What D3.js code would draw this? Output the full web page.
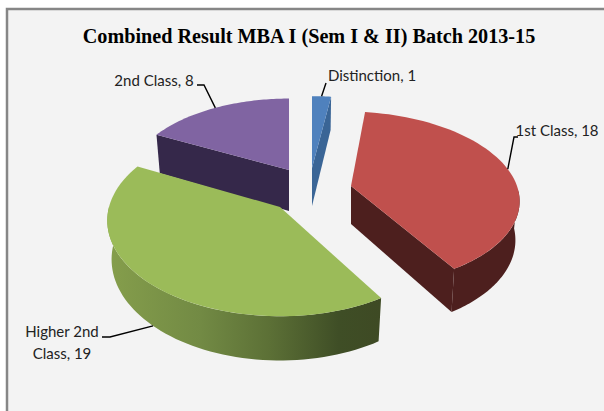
<!DOCTYPE html>
<html><head><meta charset="utf-8">
<script src="https://cdn.jsdelivr.net/npm/d3@7"></script>
<style>html,body{margin:0;padding:0;background:#fff}svg{display:block}</style>
</head><body><svg id="c" width="604" height="411"></svg>
<script>
const categories = ["Distinction", "1st Class", "Higher 2nd Class", "2nd Class"];
const values = [1, 18, 19, 8];
const topColors = ["#4f81bd", "#c0504d", "#9bbb59", "#8064a2"];
const wallColors = ["#3a6596", "#4d1f1e", "url(#gw)", "#35284a"];
const apexX = [312, 351, 280, 289];
const apexY = [168, 186, 207, 170];
const radii = [160, 166, 171, 159];
const shears = [0, 0.035, 0, 0];
const squashes = [0.513, 0.513, 0.548, 0.513];
const wallHeights = [38, 38, 38, 41];
const persp = 0.142, taper = 0.975;
const drawOrder = [0, 3, 1, 2];

const svg = d3.select("#c");
svg.append("rect").attr("x",7).attr("y",9).attr("width",600).attr("height",405)
  .attr("fill","#f3f3f3").attr("stroke","#868686").attr("stroke-width",2.5);
const g = svg.append("defs").append("linearGradient").attr("id","gw")
  .attr("gradientUnits","userSpaceOnUse").attr("x1",104).attr("x2",380).attr("y1",0).attr("y2",0);
[[0,"#869f4c"],[0.35,"#728a44"],[0.6,"#5c7036"],[0.85,"#3f4e26"],[1,"#3e4a24"]]
  .forEach(s=>g.append("stop").attr("offset",s[0]).attr("stop-color",s[1]));

const arcs = d3.pie().value(d=>d).sort(null).startAngle(0).endAngle(2*Math.PI)(values);

function project(i, a, r, lower){
  const u = r*radii[i]*Math.sin(a), v = -r*radii[i]*Math.cos(a);
  const s = 1/(1 - persp*v/radii[i]);
  const t = lower ? taper : 1;
  return [apexX[i] + (u*s + shears[i]*v)*t, apexY[i] + v*squashes[i]*s + (lower ? wallHeights[i]*s : 0)];
}
const line = d3.line();
function arcPts(i,a0,a1,lower){
  return d3.range(0,61).map(k=>project(i,a0+(a1-a0)*k/60,1,lower));
}
drawOrder.forEach(i=>{
  const d = arcs[i], a0=d.startAngle, a1=d.endAngle;
  const apex = project(i,0,0,false), apexB = project(i,0,0,true);
  if(i===0 || i===3){
    const edge = i===0 ? a1 : a0;
    svg.append("path").attr("fill",wallColors[i])
      .attr("d",line([apex,project(i,edge,1,false),project(i,edge,1,true),apexB])+"Z");
  }
  if(i===1){
    svg.append("path").attr("fill",wallColors[i])
      .attr("d",line([apex,project(i,a1,1,false),project(i,a1,1,true),apexB])+"Z");
    const s=Math.PI/2+0.05;
    const top=arcPts(i,s,a1,false), bot=arcPts(i,s,a1,true).reverse();
    svg.append("path").attr("fill",wallColors[i]).attr("d",line(top.concat(bot))+"Z");
  }
  if(i===2){
    const e=Math.PI*1.5;
    const top=arcPts(i,a0,e,false), bot=arcPts(i,a0,e,true).reverse();
    svg.append("path").attr("fill",wallColors[i]).attr("d",line(top.concat(bot))+"Z");
  }
  svg.append("path").attr("fill",topColors[i])
    .attr("d",line([apex].concat(arcPts(i,a0,a1,false)))+"Z");
});

// leaders: anchored at each slice's mid angle
const elbowA = [[326,83],[514,137],[110,337],[204,85]];
const elbowB = [[326,83],[518,137],[102,337],[197,85]];
values.forEach((_,i)=>{
  const d=arcs[i], m=(d.startAngle+d.endAngle)/2;
  const p=project(i,m,1,i===2);
  svg.append("path").attr("fill","none").attr("stroke","#000").attr("stroke-width",1.4)
    .attr("d",line([p,elbowA[i],elbowB[i]]));
});

svg.append("text").attr("x",309).attr("y",43).attr("text-anchor","middle")
  .attr("font-family","Liberation Serif").attr("font-weight","bold").attr("font-size",20.2)
  .attr("fill","#000").text("Combined Result MBA I (Sem I & II) Batch 2013-15");
const labelLines = [["Distinction, 1"],["1st Class, 18"],["Higher 2nd","Class, 19"],["2nd Class, 8"]];
const labelX = [372,557,62,154];
const labelY = [81,136,337,86];
labelLines.forEach((ls,i)=>ls.forEach((t,j)=>{
  svg.append("text").attr("x",labelX[i]).attr("y",labelY[i]+j*22).attr("text-anchor","middle")
    .attr("font-family","Lato").attr("font-size",15).attr("fill","#222").text(t);
}));
</script></body></html>
